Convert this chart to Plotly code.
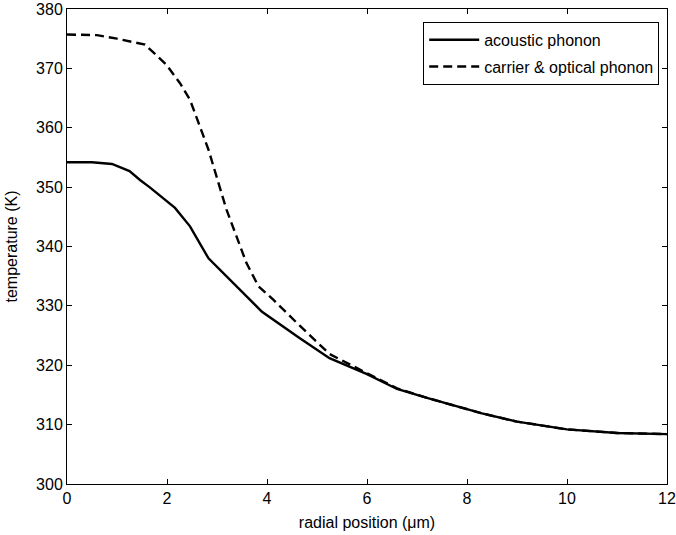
import plotly.graph_objects as go

# radial position (um)
x_acoustic = [0, 0.5, 0.9, 1.25, 1.46, 1.65, 2.16, 2.46, 2.83, 3.26, 3.9, 4.65, 5.25, 6.0, 6.6, 7.2, 7.9, 8.3, 9.0, 10.0, 11.0, 12.0]
y_acoustic = [354.2, 354.2, 353.9, 352.7, 351.2, 350.0, 346.5, 343.4, 338.0, 334.4, 329.0, 324.6, 321.2, 318.5, 316.0, 314.5, 312.8, 311.9, 310.5, 309.2, 308.6, 308.4]

x_optical = [0, 0.6, 1.0, 1.56, 1.99, 2.26, 2.46, 2.63, 2.83, 2.99, 3.19, 3.39, 3.59, 3.83, 4.13, 4.65, 5.1, 5.25, 6.2, 6.6, 7.2, 7.9, 8.3, 9.0, 10.0, 11.0, 12.0]
y_optical = [375.7, 375.6, 375.0, 374.0, 370.6, 367.5, 364.7, 360.8, 356.3, 351.8, 346.2, 341.7, 337.2, 333.3, 331.0, 326.7, 323.0, 321.9, 317.8, 316.1, 314.5, 312.8, 311.9, 310.5, 309.2, 308.6, 308.4]

x_ticks = [0, 2, 4, 6, 8, 10, 12]
y_ticks = [300, 310, 320, 330, 340, 350, 360, 370, 380]

FONT = "Liberation Sans, Arial, sans-serif"

fig = go.Figure()
fig.add_trace(go.Scatter(x=x_acoustic, y=y_acoustic, mode="lines", name="acoustic phonon",
                         legendgroup="a",
                         line=dict(color="black", width=2.4)))
fig.add_trace(go.Scatter(x=x_optical, y=y_optical, mode="lines", name="carrier & optical phonon",
                         legendgroup="b",
                         line=dict(color="black", width=2.4, dash="9px,5px")))

axis_common = dict(showline=True, linecolor="black", linewidth=1, mirror="ticks",
                   ticks="inside", ticklen=5, tickcolor="black", showgrid=False, zeroline=False,
                   automargin=False,
                   tickfont=dict(family=FONT, size=16, color="black"))

fig.update_layout(
    width=676, height=535,
    margin=dict(l=67, r=9, t=9, b=51),
    paper_bgcolor="white", plot_bgcolor="white",
    font=dict(family=FONT, color="black"),
    xaxis=dict(range=[0, 12], tickvals=x_ticks, ticktext=[str(v) for v in x_ticks],
               title=dict(text="radial position (\u03bcm)", font=dict(family=FONT, size=16), standoff=10),
               **axis_common),
    yaxis=dict(range=[300, 380], tickvals=y_ticks, ticktext=[str(v) for v in y_ticks],
               title=dict(text="temperature (K)", font=dict(family=FONT, size=16), standoff=14),
               **axis_common),
    legend=dict(x=0.987, y=0.973, xanchor="right", yanchor="top",
                bordercolor="black", borderwidth=1, bgcolor="white",
                font=dict(family=FONT, size=16, color="black"),
                itemwidth=50, tracegroupgap=3, traceorder="grouped"),
)

fig.write_html("out.html")
